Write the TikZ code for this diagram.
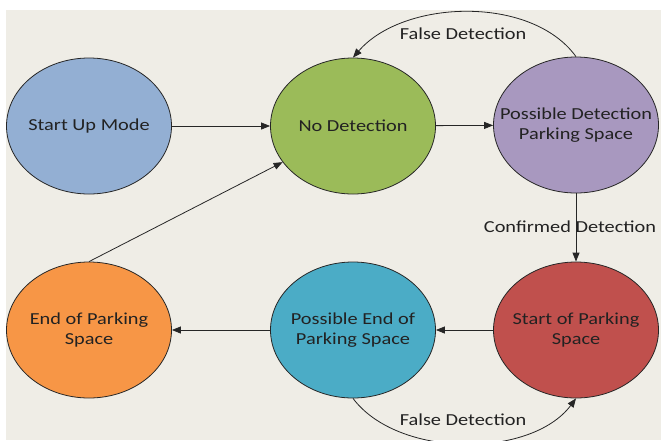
\documentclass[tikz,border=0pt]{standalone}
\usepackage{fontspec}
\setmainfont[FakeStretch=1.21]{Carlito}
\usetikzlibrary{shapes.geometric,arrows.meta}
\definecolor{bgc}{HTML}{EFEDE6}
\definecolor{cblue}{HTML}{93AFD3}
\definecolor{cgreen}{HTML}{9BBB59}
\definecolor{cpurple}{HTML}{A898BF}
\definecolor{cred}{HTML}{C0504D}
\definecolor{cteal}{HTML}{4BACC6}
\definecolor{corange}{HTML}{F79646}
\definecolor{txt}{HTML}{222222}
\definecolor{edge}{HTML}{262626}
\tikzset{
  state/.style={ellipse, draw=edge, line width=0.8pt, minimum width=165pt, minimum height=136pt,
    inner xsep=-45pt, inner ysep=0pt, align=center, text=txt, font=\fontsize{16.8}{20}\selectfont},
  arr/.style={draw=edge, line width=0.8pt, -{Triangle[length=9pt,width=7pt]}},
  lbl/.style={text=txt, font=\fontsize{16.8}{20}\selectfont, inner sep=0pt}
}
\begin{document}
\begin{tikzpicture}[x=1pt,y=-1pt]
\useasboundingbox (0,0) rectangle (661,440);
\fill[white] (0,0) rectangle (661,440);
\fill[bgc] (6,10) rectangle (661,440);
\node[state, fill=cblue] (su) at (89,126) {Start Up Mode};
\node[state, fill=cgreen] (nd) at (353,126) {No Detection};
\node[state, fill=cpurple] (pd) at (576,125) {Possible Detection\\Parking Space};
\node[state, fill=corange] (ep) at (89,330) {End of Parking\\Space};
\node[state, fill=cteal] (pe) at (353,330) {Possible End of\\Parking Space};
\node[state, fill=cred] (sp) at (576,330) {Start of Parking\\Space};
\draw[arr] (su) -- (nd);
\draw[arr] (nd) -- (pd);
\draw[arr] (pd) -- (sp);
\node[lbl] (cd) at (570,227) {Confirmed Detection};
\draw[arr] (sp) -- (pe);
\draw[arr] (pe) -- (ep);
\draw[arr] (ep.north) -- (nd);
\draw[arr] (pd.north) .. controls +(-45,-62) and +(50,-58) .. (nd.north);
\node[lbl] (fd1) at (463,34) {False Detection};
\draw[arr] (pe.south) .. controls +(45,60) and +(-45,60) .. (sp.south);
\node[lbl] (fd2) at (463,420) {False Detection};
\end{tikzpicture}
\end{document}
